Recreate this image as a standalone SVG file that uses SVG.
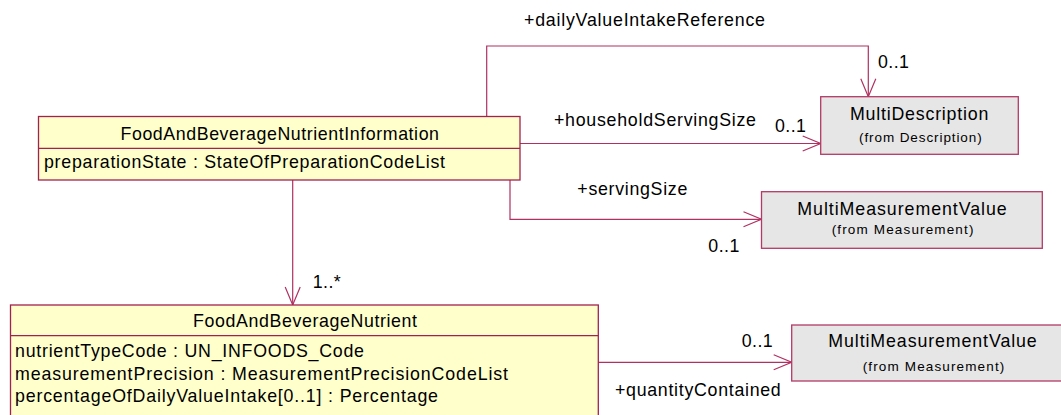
<svg xmlns="http://www.w3.org/2000/svg" width="1061" height="415" viewBox="0 0 1061 415">
<style>
.cls{fill:#FFFFCC;stroke:#A3214F;stroke-width:1.3}
.ext{fill:#E6E6E6;stroke:#B33A66;stroke-width:1.3}
.div{stroke:#A3214F;stroke-width:1.3}
.t{font-family:"Liberation Sans",Arial,sans-serif;font-size:17.8px;fill:#000}
.s{font-family:"Liberation Sans",Arial,sans-serif;font-size:13.5px;fill:#000}
.conn{fill:none;stroke:#B03060;stroke-width:1.2}
</style>
<defs>
<marker id="open" markerUnits="userSpaceOnUse" markerWidth="24" markerHeight="20" refX="0" refY="0" viewBox="-20 -10 24 20" orient="auto" overflow="visible">
<path d="M-18,-7.5 L0,0 L-18,7.5" fill="none" stroke="#B03060" stroke-width="1.2"/>
</marker>
</defs>
<rect width="1061" height="415" fill="#FFFFFF"/>

<g id="connectors">
<polyline class="conn" points="486.7,116.5 486.7,46 868.3,46 868.3,96.7" marker-end="url(#open)"/>
<polyline class="conn" points="520,143.5 820.7,143.5" marker-end="url(#open)"/>
<polyline class="conn" points="510,180 510,219.3 761.5,219.3" marker-end="url(#open)"/>
<polyline class="conn" points="292.7,180 292.7,305" marker-end="url(#open)"/>
<polyline class="conn" points="598.3,362.3 791.7,362.3" marker-end="url(#open)"/>
<text class="t" x="524" y="26" textLength="241" lengthAdjust="spacing">+dailyValueIntakeReference</text>
<text class="t" x="878" y="68.3" textLength="31" lengthAdjust="spacing">0..1</text>
<text class="t" x="554" y="126" textLength="202" lengthAdjust="spacing">+householdServingSize</text>
<text class="t" x="775" y="132" textLength="31" lengthAdjust="spacing">0..1</text>
<text class="t" x="577.3" y="195" textLength="110" lengthAdjust="spacing">+servingSize</text>
<text class="t" x="708.3" y="251.7" textLength="31" lengthAdjust="spacing">0..1</text>
<text class="t" x="312.7" y="288.3" textLength="28" lengthAdjust="spacing">1..*</text>
<text class="t" x="741.7" y="346.5" textLength="31" lengthAdjust="spacing">0..1</text>
<text class="t" x="615" y="396" textLength="165.7" lengthAdjust="spacing">+quantityContained</text>
</g>

<g id="FoodAndBeverageNutrientInformation">
<rect class="cls" x="38.5" y="116.5" width="481.5" height="63.5"/>
<line class="div" x1="38.5" y1="148.3" x2="520" y2="148.3"/>
<text class="t" x="120.5" y="140" textLength="318.5" lengthAdjust="spacing">FoodAndBeverageNutrientInformation</text>
<text class="t" x="44" y="168.3" textLength="401" lengthAdjust="spacing">preparationState : StateOfPreparationCodeList</text>
</g>

<g id="MultiDescription">
<rect class="ext" x="820.7" y="96.7" width="197.6" height="57.6"/>
<text class="t" x="850" y="120" textLength="138.3" lengthAdjust="spacing">MultiDescription</text>
<text class="s" x="859" y="141.7" textLength="122.7" lengthAdjust="spacing">(from Description)</text>
</g>

<g id="MultiMeasurementValue1">
<rect class="ext" x="761.5" y="191.7" width="280.8" height="56.6"/>
<text class="t" x="797.3" y="215" textLength="209.4" lengthAdjust="spacing">MultiMeasurementValue</text>
<text class="s" x="831.7" y="234" textLength="141.7" lengthAdjust="spacing">(from Measurement)</text>
</g>

<g id="FoodAndBeverageNutrient">
<rect class="cls" x="10.5" y="305" width="587.8" height="112"/>
<line class="div" x1="10.5" y1="335.7" x2="598.3" y2="335.7"/>
<text class="t" x="193" y="327.3" textLength="224" lengthAdjust="spacing">FoodAndBeverageNutrient</text>
<text class="t" x="15" y="356.7" textLength="349" lengthAdjust="spacing">nutrientTypeCode : UN_INFOODS_Code</text>
<text class="t" x="15" y="380" textLength="493" lengthAdjust="spacing">measurementPrecision : MeasurementPrecisionCodeList</text>
<text class="t" x="15" y="402.3" textLength="423" lengthAdjust="spacing">percentageOfDailyValueIntake[0..1] : Percentage</text>
</g>

<g id="MultiMeasurementValue2">
<rect class="ext" x="791.7" y="325" width="283" height="56"/>
<text class="t" x="828.3" y="347" textLength="208.4" lengthAdjust="spacing">MultiMeasurementValue</text>
<text class="s" x="862.7" y="371.3" textLength="141.6" lengthAdjust="spacing">(from Measurement)</text>
</g>
</svg>
